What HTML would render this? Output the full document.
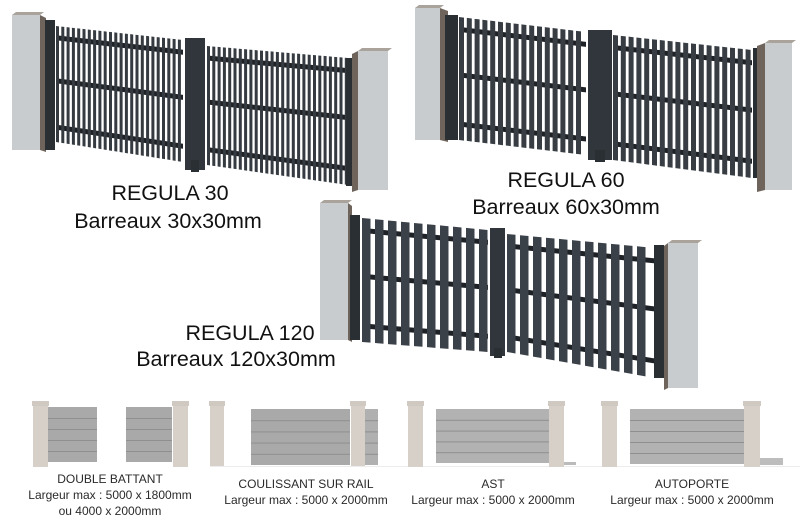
<!DOCTYPE html>
<html><head><meta charset="utf-8"><style>
html,body{margin:0;padding:0;background:#fff;}
svg{display:block;}
.t{font-family:"Liberation Sans",sans-serif;fill:#111;}
.n{font-family:"Liberation Sans Narrow","Liberation Sans",sans-serif;fill:#2a2a2a;font-size:12px;}
</style></head><body>
<svg id="s" width="800" height="530" xmlns="http://www.w3.org/2000/svg">
<g id="g"></g>
<text class="t" x="170" y="200" font-size="21.5" text-anchor="middle">REGULA 30</text>
<text class="t" x="168" y="228" font-size="21.5" text-anchor="middle">Barreaux 30x30mm</text>
<text class="t" x="566" y="187" font-size="21.5" text-anchor="middle">REGULA 60</text>
<text class="t" x="566" y="214" font-size="21.5" text-anchor="middle">Barreaux 60x30mm</text>
<text class="t" x="250" y="340" font-size="21.5" text-anchor="middle">REGULA 120</text>
<text class="t" x="236" y="366" font-size="21.5" text-anchor="middle">Barreaux 120x30mm</text>
<text class="n" x="110" y="483" text-anchor="middle">DOUBLE BATTANT</text>
<text class="n" x="110" y="499" text-anchor="middle">Largeur max : 5000 x 1800mm</text>
<text class="n" x="110" y="515" text-anchor="middle">ou 4000 x 2000mm</text>
<text class="n" x="306" y="488" text-anchor="middle">COULISSANT SUR RAIL</text>
<text class="n" x="306" y="504" text-anchor="middle">Largeur max : 5000 x 2000mm</text>
<text class="n" x="493" y="488" text-anchor="middle">AST</text>
<text class="n" x="493" y="504" text-anchor="middle">Largeur max : 5000 x 2000mm</text>
<text class="n" x="692" y="488" text-anchor="middle">AUTOPORTE</text>
<text class="n" x="692" y="504" text-anchor="middle">Largeur max : 5000 x 2000mm</text>
</svg>
<script>
var g=document.getElementById('g'),h='';
function P(pts,f){h+='<polygon points="'+pts.map(function(p){return p.join(',')}).join(' ')+'" fill="'+f+'"/>';}
function R(x,y,w,hh,f){h+='<rect x="'+x+'" y="'+y+'" width="'+w+'" height="'+hh+'" fill="'+f+'"/>';}
function pillar(x,y,w,hh,side,sw){
  if(side>0){P([[x+w,y+3],[x+w+sw,y+6],[x+w+sw,y+hh+2],[x+w,y+hh]],'#6e645c');}
  else{P([[x-sw,y+6],[x,y+3],[x,y+hh],[x-sw,y+hh+2]],'#6e645c');}
  R(x,y+3,w,hh-3,'#c9ccce');
  P([[x,y+3],[x+4,y],[x+w+4,y],[x+w,y+3]],'#a9a39c');
}
function leaf(x1,x2,t1,t2,b1,b2,bw,gap,col){
  var yt=function(x){return t1+(t2-t1)*(x-x1)/(x2-x1)},yb=function(x){return b1+(b2-b1)*(x-x1)/(x2-x1)};
  [0.08,0.45,0.85].forEach(function(f){
    var a=yt(x1)+(yb(x1)-yt(x1))*f,b=yt(x2)+(yb(x2)-yt(x2))*f;
    P([[x1,a],[x2,b],[x2,b+5],[x1,a+5]],'#1e2226');
  });
  for(var x=x1;x+bw<=x2+0.5;x+=bw+gap){
    P([[x,yt(x)],[x+bw,yt(x+bw)],[x+bw,yb(x+bw)],[x,yb(x)]],col);
  }
}
pillar(12,12,28,138,1,6);
R(45,20,10,130,'#2a2f34');
leaf(56,183,26,40,142,162,3,2.3,'#353b41');
R(185,38,20,132,'#30363b');R(191,160,8,12,'#2a2f34');
leaf(207,348,46,58,165,185,3,2.3,'#353b41');
R(346,58,8,128,'#2a2f34');
pillar(358,48,30,142,-1,6);
pillar(415,5,25,135,1,8);
R(445,15,13,125,'#2a2f34');
leaf(459,586,17,32,140,155,5,2.8,'#373d43');
R(588,30,24,130,'#30363b');R(595,150,10,12,'#2a2f34');
leaf(613,752,35,50,160,178,5,2.8,'#373d43');
R(753,48,10,130,'#2a2f34');
pillar(765,40,27,150,-1,8);
pillar(320,200,28,140,1,4);
R(350,215,10,125,'#2a2f34');
leaf(362,488,218,230,342,352,8.5,4.5,'#3b4148');
R(490,228,15,128,'#30363b');R(494,348,8,10,'#2a2f34');
leaf(507,655,234,248,352,378,8.5,4.5,'#3b4148');
R(654,245,10,133,'#2a2f34');
pillar(668,240,30,148,-1,4);
function sp(x,y,w,hh){R(x,y+4,w,hh-4,'#d6d0c8');R(x-1,y,w+2,5,'#cfc9c1');}
function panel(x,y,w,hh,c){R(x,y,w,hh,c||'#a9a9aa');for(var i=1;i<5;i++)R(x,y+hh*i/5,w,1,'#8f8f90');}
sp(33,401,15,66);panel(48,407,49,55);panel(126,407,46,55);sp(173,401,15,66);
sp(210,401,14,66);panel(365,409,13,56,'#b0b0b1');panel(251,409,99,56);sp(351,401,14,66);
R(210,466,590,1,'#ececec');
sp(408,401,15,66);panel(436,409,113,54,'#b2b2b3');sp(549,401,15,66);R(564,462,12,3,'#bbb');
sp(602,401,15,66);panel(630,409,115,55,'#b2b2b3');sp(744,401,16,66);R(760,458,23,7,'#bdbdbd');
g.innerHTML=h;
</script>
</body></html>
